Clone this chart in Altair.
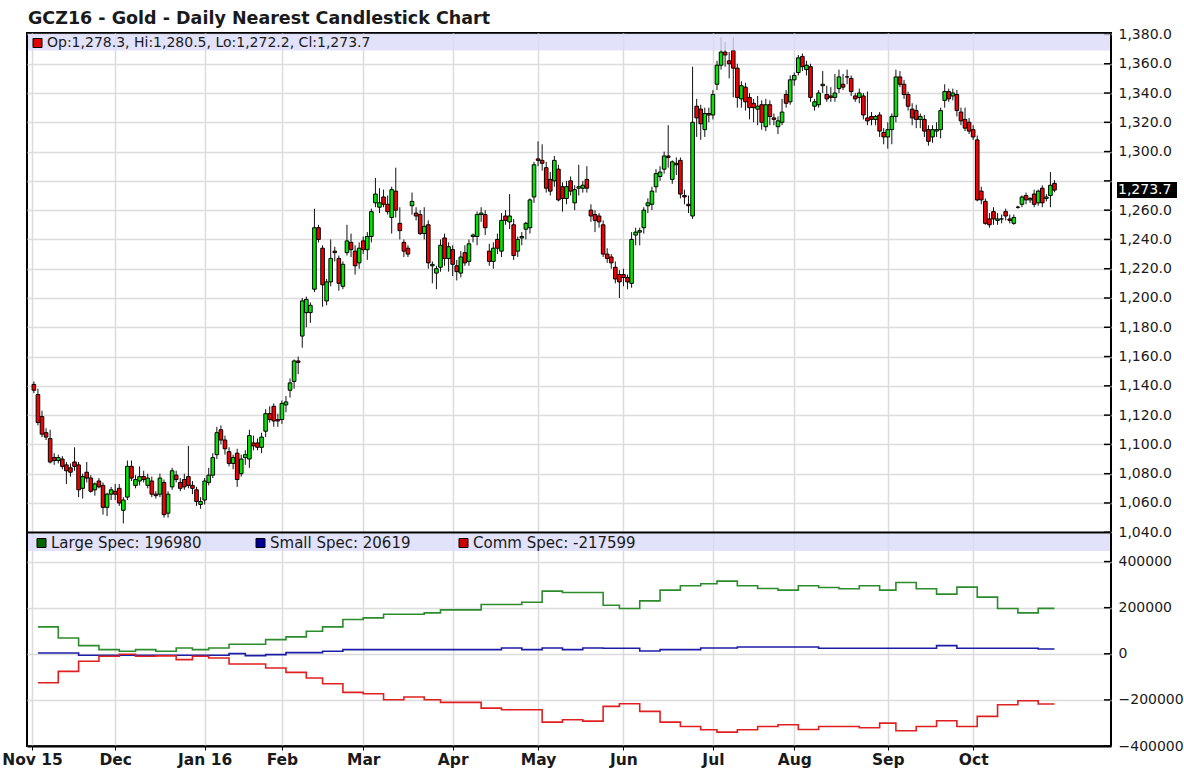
import json
import altair as alt
import numpy as np
import pandas as pd

title_text = "GCZ16 - Gold - Daily Nearest Candlestick Chart"

# x axis: trading-day index of each month start
month_labels = ["Nov 15", "Dec", "Jan 16", "Feb", "Mar", "Apr", "May", "Jun", "Jul", "Aug", "Sep", "Oct"]
month_ticks = [-0.46, 20, 42, 61, 81, 103, 124, 145, 167, 187, 210, 231]

# daily candles, one line per month (Nov 2015 .. Oct 2016)
opens = (
    [1141, 1134, 1119, 1108, 1104, 1091, 1089, 1090, 1086, 1084, 1088, 1086, 1070, 1081, 1077, 1069, 1075, 1072, 1057, 1066]
    + [1068, 1070, 1055, 1064, 1085, 1072, 1075, 1078, 1072, 1075, 1066, 1066, 1074, 1053, 1071, 1079, 1074, 1076, 1078, 1072, 1069, 1059]
    + [1062, 1074, 1079, 1093, 1110, 1103, 1095, 1087, 1094, 1080, 1091, 1090, 1101, 1101, 1098, 1109, 1121, 1126, 1117]
    + [1117, 1127, 1137, 1143, 1157, 1174, 1190, 1190, 1206, 1248, 1234, 1198, 1211, 1232, 1227, 1208, 1231, 1238, 1232, 1224]
    + [1239, 1233, 1242, 1265, 1262, 1269, 1264, 1255, 1273, 1251, 1238, 1234, 1263, 1258, 1257, 1244, 1250, 1222, 1217, 1221, 1241, 1227]
    + [1233, 1222, 1217, 1231, 1225, 1242, 1242, 1257, 1257, 1232, 1225, 1240, 1232, 1256, 1252, 1250, 1232, 1241, 1247, 1248, 1269]
    + [1295, 1294, 1289, 1281, 1280, 1288, 1276, 1268, 1280, 1265, 1275, 1275, 1281, 1260, 1257, 1256, 1250, 1230, 1228, 1221, 1216]
    + [1216, 1214, 1210, 1243, 1245, 1248, 1263, 1264, 1276, 1283, 1288, 1297, 1281, 1292, 1294, 1270, 1264, 1256, 1331, 1329, 1315, 1326]
    + [1325, 1346, 1359, 1368, 1362, 1369, 1357, 1336, 1344, 1337, 1333, 1329, 1332, 1317, 1332, 1323, 1317, 1320, 1339, 1334]
    + [1349, 1354, 1365, 1356, 1358, 1331, 1332, 1345, 1339, 1338, 1337, 1343, 1346, 1351, 1350, 1338, 1337, 1338, 1323, 1324, 1322, 1325, 1313]
    + [1310, 1315, 1324, 1351, 1346, 1339, 1329, 1328, 1322, 1322, 1315, 1310, 1314, 1315, 1335, 1341, 1338, 1339, 1327, 1322, 1320]
    + [1315, 1308, 1273, 1266, 1254, 1259, 1253, 1254, 1259, 1254, 1251, 1262, 1264, 1270, 1267, 1271, 1265, 1275, 1268, 1270, 1278.3]
)
highs = (
    [1143, 1138, 1123, 1111, 1110, 1094, 1093, 1092, 1088, 1087, 1098, 1088, 1080, 1088, 1079, 1074, 1077, 1074, 1067, 1071]
    + [1073, 1073, 1064, 1089, 1089, 1079, 1085, 1082, 1080, 1078, 1068, 1080, 1076, 1068, 1084, 1082, 1077, 1080, 1099, 1075, 1071, 1064]
    + [1077, 1084, 1094, 1112, 1113, 1106, 1098, 1093, 1097, 1093, 1096, 1110, 1106, 1104, 1108, 1124, 1126, 1128, 1121]
    + [1130, 1133, 1145, 1158, 1160, 1200, 1201, 1197, 1261, 1250, 1236, 1213, 1240, 1235, 1229, 1225, 1250, 1244, 1236, 1238]
    + [1242, 1245, 1261, 1282, 1275, 1274, 1270, 1276, 1289, 1262, 1240, 1236, 1272, 1262, 1260, 1262, 1253, 1225, 1222, 1240, 1244, 1238]
    + [1236, 1226, 1232, 1236, 1240, 1244, 1259, 1262, 1260, 1237, 1238, 1244, 1258, 1260, 1271, 1254, 1242, 1245, 1252, 1268, 1293]
    + [1307, 1305, 1293, 1286, 1297, 1291, 1279, 1280, 1283, 1277, 1291, 1280, 1290, 1264, 1260, 1258, 1253, 1234, 1230, 1225, 1219]
    + [1220, 1216, 1245, 1248, 1248, 1262, 1268, 1276, 1288, 1290, 1300, 1318, 1294, 1296, 1296, 1274, 1270, 1358, 1336, 1332, 1330, 1330]
    + [1342, 1362, 1378, 1375, 1368, 1378, 1360, 1348, 1347, 1340, 1336, 1338, 1335, 1336, 1335, 1326, 1324, 1336, 1342, 1352]
    + [1354, 1366, 1367, 1362, 1360, 1336, 1342, 1355, 1345, 1344, 1353, 1356, 1353, 1356, 1352, 1340, 1343, 1340, 1341, 1327, 1325, 1327, 1316]
    + [1320, 1326, 1356, 1355, 1349, 1341, 1333, 1332, 1326, 1325, 1318, 1318, 1320, 1330, 1346, 1343, 1343, 1342, 1330, 1330, 1323]
    + [1318, 1311, 1276, 1268, 1258, 1262, 1258, 1257, 1261, 1257, 1257, 1263, 1270, 1272, 1269, 1274, 1274, 1277, 1271, 1286, 1280.5]
)
lows = (
    [1135, 1113, 1105, 1103, 1087, 1086, 1087, 1083, 1073, 1078, 1082, 1064, 1063, 1074, 1067, 1065, 1070, 1052, 1051, 1062]
    + [1062, 1058, 1046, 1062, 1075, 1070, 1072, 1074, 1070, 1064, 1063, 1064, 1050, 1050, 1069, 1074, 1068, 1069, 1070, 1066, 1058, 1056]
    + [1059, 1072, 1077, 1090, 1100, 1093, 1085, 1083, 1071, 1078, 1086, 1084, 1096, 1096, 1094, 1105, 1115, 1112, 1112]
    + [1114, 1122, 1132, 1138, 1148, 1166, 1180, 1183, 1204, 1238, 1194, 1195, 1208, 1225, 1205, 1206, 1229, 1228, 1216, 1220]
    + [1230, 1226, 1238, 1262, 1258, 1262, 1257, 1244, 1255, 1240, 1228, 1228, 1257, 1253, 1243, 1240, 1220, 1210, 1206, 1218, 1222, 1218]
    + [1215, 1212, 1214, 1222, 1222, 1238, 1236, 1252, 1243, 1222, 1220, 1230, 1228, 1250, 1247, 1226, 1228, 1236, 1240, 1244, 1265]
    + [1290, 1287, 1272, 1270, 1276, 1266, 1259, 1264, 1270, 1260, 1270, 1272, 1272, 1252, 1245, 1248, 1228, 1224, 1220, 1210, 1200]
    + [1208, 1206, 1207, 1236, 1236, 1244, 1258, 1260, 1272, 1280, 1285, 1289, 1278, 1284, 1268, 1264, 1258, 1254, 1310, 1308, 1310, 1320]
    + [1322, 1342, 1356, 1358, 1350, 1337, 1330, 1330, 1328, 1322, 1320, 1318, 1315, 1314, 1318, 1318, 1312, 1318, 1330, 1332]
    + [1345, 1352, 1355, 1352, 1334, 1328, 1330, 1340, 1334, 1334, 1334, 1340, 1342, 1346, 1338, 1334, 1333, 1322, 1318, 1318, 1318, 1310, 1305]
    + [1302, 1305, 1320, 1344, 1336, 1328, 1318, 1316, 1316, 1310, 1304, 1306, 1310, 1309, 1330, 1334, 1335, 1324, 1318, 1314, 1312]
    + [1308, 1266, 1264, 1250, 1248, 1250, 1250, 1251, 1253, 1251, 1250, 1261, 1262, 1264, 1265, 1262, 1263, 1262, 1266, 1262, 1272.2]
)
closes = (
    [1137, 1115, 1107, 1105, 1088, 1089, 1091, 1085, 1082, 1081, 1085, 1069, 1078, 1077, 1068, 1073, 1071, 1057, 1066, 1069]
    + [1066, 1060, 1062, 1085, 1077, 1076, 1078, 1076, 1077, 1066, 1065, 1077, 1052, 1066, 1082, 1076, 1070, 1071, 1072, 1070, 1061, 1061]
    + [1075, 1079, 1091, 1108, 1103, 1097, 1087, 1091, 1076, 1090, 1093, 1106, 1099, 1098, 1105, 1121, 1117, 1116, 1116]
    + [1128, 1129, 1142, 1157, 1156, 1198, 1199, 1195, 1248, 1240, 1209, 1211, 1227, 1231, 1210, 1223, 1239, 1233, 1222, 1234]
    + [1233, 1242, 1259, 1271, 1265, 1264, 1259, 1274, 1260, 1246, 1232, 1230, 1266, 1256, 1244, 1249, 1224, 1223, 1220, 1236, 1227, 1235]
    + [1223, 1218, 1228, 1224, 1237, 1243, 1257, 1258, 1248, 1225, 1234, 1234, 1253, 1253, 1256, 1229, 1240, 1242, 1251, 1267, 1291]
    + [1294, 1292, 1275, 1273, 1294, 1267, 1268, 1276, 1273, 1274, 1276, 1277, 1275, 1256, 1253, 1252, 1230, 1227, 1224, 1213, 1211]
    + [1214, 1211, 1240, 1245, 1246, 1260, 1265, 1273, 1285, 1286, 1297, 1296, 1293, 1291, 1271, 1269, 1263, 1320, 1323, 1319, 1326, 1325]
    + [1339, 1359, 1368, 1366, 1360, 1357, 1337, 1345, 1334, 1330, 1330, 1331, 1320, 1332, 1324, 1322, 1321, 1327, 1333, 1349]
    + [1352, 1364, 1358, 1359, 1337, 1334, 1340, 1346, 1336, 1337, 1340, 1351, 1344, 1351, 1341, 1336, 1340, 1325, 1321, 1322, 1324, 1314, 1310]
    + [1315, 1324, 1351, 1346, 1339, 1331, 1323, 1322, 1324, 1314, 1307, 1315, 1315, 1328, 1341, 1336, 1340, 1328, 1321, 1316, 1314]
    + [1310, 1267, 1267, 1251, 1250, 1254, 1254, 1254, 1256, 1253, 1255, 1262, 1269, 1267, 1268, 1264, 1273, 1265, 1269, 1277, 1273.7]
)

# weekly positioning (commitment of traders), step starts by trading-day index
week_starts = [1, 6, 11, 16, 21, 25, 30, 35, 39, 43, 48, 52, 57, 62, 67, 71, 76, 81, 86, 91, 96, 100, 105, 110, 115, 120,
               125, 130, 135, 140, 144, 149, 154, 159, 164, 168, 173, 178, 183, 188, 193, 198, 203, 208, 212, 217, 222, 227,
               232, 237, 242, 247]
last_day = 251
large_spec = [116700, 68800, 35500, 18100, 10900, 18100, 10900, 25400, 18100, 25400, 41300, 41300, 61600, 73200, 97800,
              116700, 148600, 155800, 171700, 171700, 177500, 190600, 190600, 213800, 213800, 223900, 271700, 265900,
              265900, 210900, 196400, 229700, 276100, 294900, 303600, 315200, 294900, 283300, 276100, 294900, 287700,
              281900, 294900, 276100, 309400, 281900, 258700, 289100, 245700, 196400, 177500, 196980]
small_spec = [3600, 3600, -6500, -6500, -6500, -6500, -6500, -6500, -6500, -6500, 700, -8000, -3600, 5000, 5000, 10900,
              18100, 18100, 18100, 18100, 18100, 18100, 18100, 18100, 25400, 18100, 25400, 18100, 25400, 24000, 24000,
              12300, 18100, 18100, 25400, 25400, 29700, 29700, 29700, 29700, 23900, 23900, 23900, 23900, 23900, 23900,
              35500, 23900, 23900, 23900, 23900, 20619]
comm_spec = [-125400, -76100, -32600, -10900, -2200, -10900, -9000, -25400, -10900, -18100, -44200, -44200, -61600,
             -80400, -105100, -129700, -167400, -173200, -199300, -187700, -199300, -210900, -210900, -235500, -242800,
             -242800, -296400, -286300, -292000, -228300, -216700, -250000, -296400, -315200, -329700, -339800, -329700,
             -315200, -307900, -328200, -315200, -315200, -321000, -300700, -334000, -315200, -290600, -315200, -271700,
             -221000, -203600, -217599]

price_ticks = list(range(1040, 1381, 20))
cot_ticks = [-400000, -200000, 0, 200000, 400000]

assert len(opens) == len(highs) == len(lows) == len(closes) == 252
assert len(week_starts) == len(large_spec) == len(small_spec) == len(comm_spec)

# ---------------- data frames ----------------
candles = pd.DataFrame({"i": np.arange(len(opens)), "open": opens, "high": highs, "low": lows, "close": closes})
candles["dir"] = np.where(candles["close"] >= candles["open"], "up", "down")
last = candles.iloc[-1]

rows = []
for name, vals in (("Large", large_spec), ("Small", small_spec), ("Comm", comm_spec)):
    for d, v in zip(week_starts, vals):
        rows.append({"i": d, "value": v, "series": name})
    rows.append({"i": last_day, "value": vals[-1], "series": name})
cot = pd.DataFrame(rows)

# ---------------- layout ----------------
W, H = 1084, 713
FONT = "DejaVu Sans"
GRID = "#dcdcdc"
one = pd.DataFrame({"k": [0]})

x_domain = [month_ticks[0], 263.67]
label_expr = f"{json.dumps(month_labels)}[indexof({json.dumps(month_ticks)}, datum.value)]"
X = alt.X("i:Q", scale=alt.Scale(domain=x_domain, nice=False, zero=False),
          axis=alt.Axis(values=month_ticks, labelExpr=label_expr, title=None, grid=True, gridColor=GRID,
                        gridWidth=1.5, tickColor="black", tickSize=4, domainColor="black", domainWidth=2,
                        labelFont=FONT, labelFontWeight="bold", labelFontSize=15.5, labelColor="#1a1a1a",
                        labelPadding=2, labelFlush=False, labelOverlap=False))

price_scale = alt.Scale(domain=[894.0, 1381.0], nice=False, zero=False)
cot_scale = alt.Scale(domain=[-400000, 2693000], nice=False, zero=False)

hidden = min(price_ticks, key=lambda t: abs(t - last["close"]))
price_axis = alt.Axis(orient="right", values=price_ticks, title=None, grid=True, gridColor=GRID, gridWidth=1.5,
                      ticks=False, tickSize=0, domain=False, labelFont=FONT, labelFontSize=14, labelColor="#1a1a1a",
                      labelPadding=7, labelFlush=False, labelOverlap=False,
                      labelExpr=f"datum.value == {hidden} ? '' : format(datum.value, ',.1f')")
cot_axis = alt.Axis(orient="right", values=cot_ticks, format="d", title=None, grid=True, gridColor=GRID,
                    gridWidth=1.5, ticks=False, tickSize=0, domain=False, labelFont=FONT, labelFontSize=14,
                    labelColor="#1a1a1a", labelPadding=7, labelFlush=False, labelOverlap=False)

wicks = alt.Chart(candles).mark_rule(color="#111111", strokeWidth=1).encode(
    x=X, y=alt.Y("low:Q", scale=price_scale, axis=price_axis), y2="high:Q")

bodies = alt.Chart(candles).mark_bar(size=3.6, stroke="black", strokeWidth=1).encode(
    x=X, y=alt.Y("open:Q", scale=price_scale, axis=None), y2="close:Q",
    color=alt.Color("dir:N", scale=alt.Scale(domain=["up", "down"], range=["#00e600", "#f50000"]), legend=None))

lines = alt.Chart(cot).mark_line(interpolate="step-after", strokeWidth=1.6).encode(
    x=X, y=alt.Y("value:Q", scale=cot_scale, axis=cot_axis),
    color=alt.Color("series:N", scale=alt.Scale(domain=["Large", "Small", "Comm"],
                                                range=["#2c8c2c", "#1c1ca6", "#e02020"]), legend=None))

price_tick_marks = alt.Chart(pd.DataFrame({"v": price_ticks})).mark_rule(color="black", strokeWidth=1.5).encode(
    y=alt.Y("v:Q", scale=price_scale, axis=None), x=alt.value(W - 7), x2=alt.value(W))
cot_tick_marks = alt.Chart(pd.DataFrame({"v": cot_ticks})).mark_rule(color="black", strokeWidth=1.5).encode(
    y=alt.Y("v:Q", scale=cot_scale, axis=None), x=alt.value(W - 7), x2=alt.value(W))

band_top = alt.Chart(one).mark_rect(color="#dbdbf9", opacity=0.8).encode(
    x=alt.value(1), x2=alt.value(W - 1), y=alt.value(1), y2=alt.value(17.5))
band_bot = alt.Chart(one).mark_rect(color="#dbdbf9", opacity=0.8).encode(
    x=alt.value(1), x2=alt.value(W - 1), y=alt.value(501), y2=alt.value(518))
separator = alt.Chart(one).mark_rule(color="black", strokeWidth=2).encode(
    x=alt.value(0), x2=alt.value(W), y=alt.value(499.5))


def legend_item(px, py, fill, text, size):
    sq = alt.Chart(one).mark_rect(fill=fill, stroke="black", strokeWidth=1).encode(
        x=alt.value(px), x2=alt.value(px + 9), y=alt.value(py - 4.5), y2=alt.value(py + 4.5))
    tx = alt.Chart(one).mark_text(text=text, align="left", baseline="middle", font=FONT, fontSize=size,
                                  color="#1a1a1a").encode(x=alt.value(px + 14), y=alt.value(py))
    return [sq, tx]


ohlc_text = f"Op:{last['open']:,.1f}, Hi:{last['high']:,.1f}, Lo:{last['low']:,.1f}, Cl:{last['close']:,.1f}"
legends = []
legends += legend_item(6, 10, "#e00000", ohlc_text, 14)
legends += legend_item(10, 510, "#006400", f"Large Spec: {large_spec[-1]}", 15)
legends += legend_item(229, 510, "#000099", f"Small Spec: {small_spec[-1]}", 15)
legends += legend_item(432, 510, "#cc0000", f"Comm Spec: {comm_spec[-1]}", 15)

last_df = candles.tail(1)
hl_box = alt.Chart(last_df).mark_rule(color="black", strokeWidth=16, strokeCap="butt").encode(
    y=alt.Y("close:Q", scale=price_scale, axis=None), x=alt.value(W + 6), x2=alt.value(W + 66))
hl_text = alt.Chart(last_df).mark_text(align="left", baseline="middle", font=FONT, fontSize=14, color="white").encode(
    y=alt.Y("close:Q", scale=price_scale, axis=None), x=alt.value(W + 7),
    text=alt.Text("close:Q", format=",.1f"))

title = alt.Chart(one).mark_text(text=title_text, align="left", baseline="alphabetic", font=FONT,
                                 fontWeight="bold", fontSize=17.5, color="#1a1a1a").encode(
    x=alt.value(1), y=alt.value(-9))

chart = alt.layer(
    wicks, bodies, lines, price_tick_marks, cot_tick_marks, band_top, band_bot, separator,
    *legends, hl_box, hl_text, title
).resolve_scale(
    y="independent", color="independent"
).properties(
    width=W, height=H,
    padding={"left": 27, "top": 33, "right": 73, "bottom": 24},
    autosize=alt.AutoSizeParams(type="none"),
    background="white",
).configure_view(stroke="black", strokeWidth=2)

chart.save("out.html", embed_options={"renderer": "svg", "actions": False})
